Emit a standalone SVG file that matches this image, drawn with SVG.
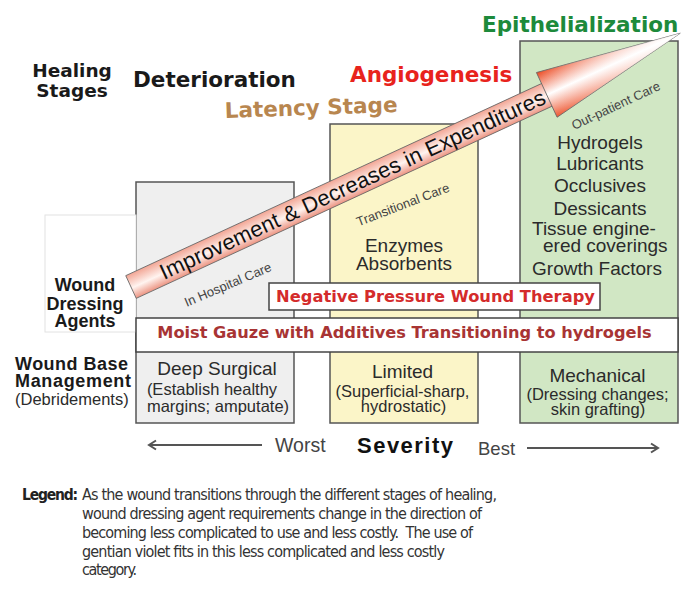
<svg xmlns="http://www.w3.org/2000/svg" width="683" height="593" viewBox="0 0 683 593">
<style>
.box{stroke:#555;stroke-width:1.5}
.stage{font-family:"DejaVu Sans",Verdana,sans-serif;font-weight:bold;font-size:21.5px}
.hs{font-family:"DejaVu Sans",Verdana,sans-serif;font-weight:bold;font-size:18.5px;fill:#1a1a1a;text-anchor:middle}
.lbl{font-family:"Liberation Sans",Arial,sans-serif;font-weight:bold;font-size:18px;fill:#1a1a1a}
.item{font-family:"Liberation Sans",Arial,sans-serif;font-size:19px;fill:#2b2b2b;text-anchor:middle}
.sub{font-size:16.5px}
.left{text-anchor:start}
.care{font-family:"Liberation Sans",Arial,sans-serif;font-size:13px;fill:#444;text-anchor:middle}
.bar{font-family:"DejaVu Sans",Verdana,sans-serif;font-weight:bold;text-anchor:middle}
.legend{font-family:"DejaVu Sans Condensed","DejaVu Sans",sans-serif;font-size:16px;fill:#333}
.sev{stroke:#555;stroke-width:2;fill:none}
</style>
<defs>
<linearGradient id="shaftGrad" x1="0" y1="0" x2="0" y2="1">
<stop offset="0" stop-color="#f2a594"/>
<stop offset="0.55" stop-color="#fff4f0"/>
<stop offset="1" stop-color="#ec9482"/>
</linearGradient>
<linearGradient id="headGrad" x1="0" y1="0" x2="0" y2="1">
<stop offset="0" stop-color="#ec4a22"/>
<stop offset="0.5" stop-color="#ffffff"/>
<stop offset="1" stop-color="#ee5630"/>
</linearGradient>
<linearGradient id="headFade" x1="0" y1="0" x2="1" y2="0">
<stop offset="0" stop-color="#fff" stop-opacity="0"/>
<stop offset="1" stop-color="#fff" stop-opacity="0.85"/>
</linearGradient>
<marker id="chev" viewBox="0 0 12 12" refX="10" refY="6" markerWidth="12" markerHeight="12" markerUnits="userSpaceOnUse" orient="auto-start-reverse">
<path d="M3,1.5 L10,6 L3,10.5" fill="none" stroke="#555" stroke-width="2"/>
</marker>
</defs>
<rect width="683" height="593" fill="#fff"/>

<g id="healing-stages-label">
<text class="hs" x="72" y="77">Healing</text>
<text class="hs" x="72" y="97">Stages</text>
</g>
<g id="stage-deterioration"><text class="stage" x="133" y="87" fill="#1a1a1a">Deterioration</text></g>
<g id="stage-latency"><text class="stage" x="225" y="118" fill="#b8864f" transform="rotate(-2 225 118)">Latency Stage</text></g>
<g id="stage-angiogenesis"><text class="stage" x="350" y="82" fill="#e8231c">Angiogenesis</text></g>
<g id="stage-epithelialization"><text class="stage" x="482" y="32" fill="#1d8a3b">Epithelialization</text></g>

<g id="col-hospital"><rect class="box" x="136" y="182" width="158" height="241" fill="#efefef"/></g>
<g id="col-transitional"><rect class="box" x="330" y="124" width="148" height="299" fill="#fbf5c8"/></g>
<g id="col-outpatient"><rect class="box" x="520" y="41" width="158" height="382" fill="#d1e7c4"/></g>

<g id="wound-dressing-agents">
<rect x="45" y="215" width="91" height="117" fill="#fff" stroke="#e2e2e2" stroke-width="1"/>
<text class="lbl" x="85" y="291" text-anchor="middle">Wound</text>
<text class="lbl" x="85" y="310" text-anchor="middle">Dressing</text>
<text class="lbl" x="85" y="327" text-anchor="middle">Agents</text>
</g>

<g id="care-labels">
<text class="care" transform="translate(228 285) rotate(-23)" y="4">In Hospital Care</text>
<text class="care" transform="translate(403 205) rotate(-21)" y="4">Transitional Care</text>
<text class="care" transform="translate(616 106) rotate(-25)" y="4">Out-patient Care</text>
</g>

<g id="improvement-arrow" transform="translate(131 287) rotate(-24.8)">
<rect x="0" y="-12.5" width="461" height="25" fill="url(#shaftGrad)" stroke="#666" stroke-width="0.8"/>
<polygon points="458,-24.6 605,0 458,24.6" fill="url(#headGrad)" stroke="#666" stroke-width="0.8"/>
<polygon points="458,-24.6 605,0 458,24.6" fill="url(#headFade)"/>
<text x="244" y="7.5" text-anchor="middle" font-family="'Liberation Sans',Arial,sans-serif" font-size="22" fill="#111" textLength="422">Improvement &amp; Decreases in Expenditures</text>
</g>

<g id="transitional-items">
<text class="item" x="404" y="252">Enzymes</text>
<text class="item" x="404" y="270">Absorbents</text>
</g>
<g id="outpatient-items">
<text class="item" x="600" y="149">Hydrogels</text>
<text class="item" x="600" y="170">Lubricants</text>
<text class="item" x="600" y="192">Occlusives</text>
<text class="item" x="600" y="215">Dessicants</text>
<text class="item left" x="532" y="235">Tissue engine-</text>
<text class="item left" x="543" y="252">ered coverings</text>
<text class="item" x="597" y="275">Growth Factors</text>
</g>

<g id="negative-pressure">
<rect x="269" y="283" width="331" height="27" fill="#fff" stroke="#444" stroke-width="1.5"/>
<text class="bar" x="435.5" y="302" font-size="16.3" fill="#d42b2b">Negative Pressure Wound Therapy</text>
</g>
<g id="moist-gauze">
<rect x="136" y="318" width="542" height="34" fill="#fff" stroke="#444" stroke-width="1.5"/>
<text class="bar" x="404.5" y="338" font-size="16.2" fill="#a83434">Moist Gauze with Additives Transitioning to hydrogels</text>
</g>

<g id="wound-base-management">
<text class="lbl" x="15" y="370" textLength="113">Wound Base</text>
<text class="lbl" x="15" y="387" textLength="116">Management</text>
<text class="item sub left" x="15" y="405">(Debridements)</text>
</g>
<g id="debride-hospital">
<text class="item" x="217" y="375">Deep Surgical</text>
<text class="item sub" x="212" y="395">(Establish healthy</text>
<text class="item sub" x="218" y="412">margins; amputate)</text>
</g>
<g id="debride-transitional">
<text class="item" x="402.5" y="378">Limited</text>
<text class="item sub" x="402.5" y="397">(Superficial-sharp,</text>
<text class="item sub" x="403.5" y="412">hydrostatic)</text>
</g>
<g id="debride-outpatient">
<text class="item" x="597.5" y="382">Mechanical</text>
<text class="item sub" x="597.5" y="400">(Dressing changes;</text>
<text class="item sub" x="598" y="415">skin grafting)</text>
</g>

<g id="connectors">
<line class="sev" x1="262" y1="445" x2="149" y2="445" marker-end="url(#chev)"/>
<line class="sev" x1="527" y1="448" x2="658" y2="448" marker-end="url(#chev)"/>
</g>
<g id="severity-axis">
<text x="275" y="452" font-family="'Liberation Sans',Arial,sans-serif" font-size="19.5" fill="#444">Worst</text>
<text x="357" y="453" font-family="'Liberation Sans',Arial,sans-serif" font-weight="bold" font-size="22" fill="#111" textLength="96">Severity</text>
<text x="478" y="455" font-family="'Liberation Sans',Arial,sans-serif" font-size="18.5" fill="#444">Best</text>
</g>

<g id="legend">
<text x="22" y="500" font-family="'DejaVu Sans Condensed','DejaVu Sans',sans-serif" font-weight="bold" font-size="15.5" fill="#222" textLength="56">Legend:</text>
<text class="legend" x="82" y="500" textLength="415">As the wound transitions through the different stages of healing,</text>
<text class="legend" x="82" y="519" textLength="400">wound dressing agent requirements change in the direction of</text>
<text class="legend" x="82" y="538" textLength="391" xml:space="preserve">becoming less complicated to use and less costly.  The use of</text>
<text class="legend" x="82" y="557" textLength="363">gentian violet fits in this less complicated and less costly</text>
<text class="legend" x="82" y="575" textLength="55">category.</text>
</g>
</svg>
